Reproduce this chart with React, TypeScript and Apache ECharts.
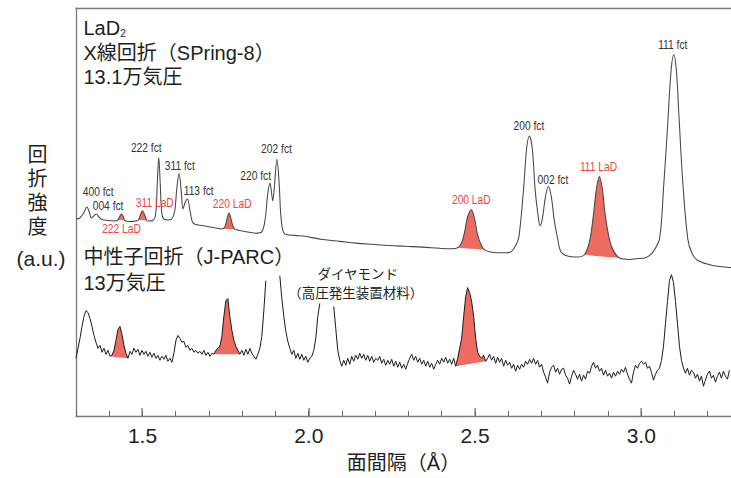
import React, { useEffect, useRef } from 'react';
import * as echarts from 'echarts';

// ---------- axis ----------
const X_MIN = 1.3;
const X_MAX = 3.27;
const Y_MIN = 0;
const Y_MAX = 410;
const MINOR_STEP = 0.1; // X_MIN is a multiple of this
const MAJOR_TICKS = [1.5, 2.0, 2.5, 3.0];

// ---------- X-ray (SPring-8) trace: d-spacing (Å) and intensity (a.u.) ----------
const XRAY_D = [
  1.300, 1.3114, 1.3234, 1.3325, 1.340, 1.346, 1.3535, 1.3616, 1.3685, 1.3776,
  1.3956, 1.4136, 1.4257, 1.4308, 1.4368, 1.4428, 1.4467, 1.4617, 1.4798, 1.4879,
  1.4948, 1.4999, 1.5053, 1.5128, 1.5188, 1.5309, 1.5399, 1.5444, 1.5489, 1.5534,
  1.5579, 1.5639, 1.5760, 1.5880, 1.5969, 1.6030, 1.6099, 1.6165, 1.6219, 1.6286,
  1.6352, 1.6421, 1.6502, 1.6601, 1.6872, 1.7202, 1.7383, 1.7473, 1.7542, 1.7602,
  1.7662, 1.7729, 1.7804, 1.8074, 1.8405, 1.8585, 1.8690, 1.8766, 1.8835, 1.8886,
  1.8916, 1.8961, 1.9045, 1.9111, 1.9171, 1.9277, 1.9577, 1.9878, 2.0419, 2.0930,
  2.1432, 2.1922, 2.2433, 2.2914, 2.3425, 2.3936, 2.4297, 2.4477, 2.4597, 2.4688,
  2.4778, 2.4889, 2.4988, 2.5078, 2.5199, 2.5289, 2.5439, 2.5640, 2.5941, 2.6100,
  2.6220, 2.6320, 2.6461, 2.6551, 2.6636, 2.6726, 2.6807, 2.6892, 2.6958, 2.7027,
  2.7117, 2.7207, 2.7297, 2.7387, 2.7487, 2.7589, 2.7787, 2.8088, 2.8290, 2.8440,
  2.8560, 2.8651, 2.8741, 2.8831, 2.8921, 2.9097, 2.9347, 2.9647, 2.9849, 3.0149,
  3.0348, 3.0549, 3.0669, 3.0799, 3.0895, 3.0979, 3.1060, 3.1130, 3.1250, 3.1400,
  3.1533, 3.1701, 3.2152, 3.2654, 3.2700,
];
const XRAY_I = [
  198, 199, 204, 210, 205, 199, 201, 203, 200, 197.5,
  196.5, 196, 197, 200, 203, 200, 196.5, 195.5, 196, 197,
  203, 206.3, 203, 196.5, 196, 196.5, 204, 233, 259.7, 233,
  204, 198, 197, 198, 206, 228, 243.7, 226, 208, 215,
  218, 208, 195, 192.5, 191, 189, 188, 190, 198, 204,
  198, 190, 187.5, 185.5, 183.7, 185, 198, 223, 234, 223,
  216.3, 228, 258, 233, 198, 183, 181.5, 180.7, 177.3, 175.5,
  173.7, 172.5, 171.3, 170.5, 169.7, 168.5, 168, 169, 174, 185,
  200, 207.3, 198, 182, 171, 167, 165, 164, 164, 165.5,
  171, 179.7, 228, 268, 281.3, 268, 228, 203, 191.3, 198,
  220, 230.7, 220, 196, 178, 164.7, 160.7, 159.7, 162, 174.7,
  201.3, 228, 240.7, 228, 201.3, 171.3, 158.7, 157.3, 158, 159.3,
  164.7, 178, 228, 294.7, 346, 363, 346, 304.7, 234.7, 178,
  163, 156.3, 151.3, 149.3, 149.2,
];
// LaD2 reflections shaded in the X-ray pattern (d-range of each shaded peak)
const XRAY_LAD_RANGES = [
  [1.4257, 1.4467],
  [1.4879, 1.5128],
  [1.7383, 1.7804],
  [2.4477, 2.5289],
  [2.8290, 2.9347],
];

// ---------- Neutron (J-PARC) trace: sampled every NEUTRON_D_STEP Å from NEUTRON_D_START ----------
const NEUTRON_D_START = 1.3;
const NEUTRON_D_STEP = 0.00601;
const NEUTRON_I: (number | null)[] = [
  58, 68, 78, 90, 100, 106, 104, 98, 90, 81,
  74, 68, 71, 64, 68, 62, 66, 60, 61, 66,
  76, 87, 90, 82, 71, 63, 58, 65, 62, 68,
  64, 67, 61, 66, 62, 65, 60, 64, 59, 63,
  58, 61, 56, 60, 57, 61, 55, 58, 54, 63,
  76, 81, 78, 74, 75, 69, 71, 66, 68, 64,
  66, 63, 65, 62, 66, 61, 64, 60, 63, 62,
  66, 68, 70, 80, 100, 116, 118, 100, 86, 76,
  70, 66, 62, 66, 61, 67, 62, 68, 63, 60,
  57, 62, 68, 80, 106, 136, null, null, null, null,
  null, null, 141, 118, 100, 85, 75, 68, 62, 66,
  58, 63, 57, 62, 56, 60, 54, 58, 60, 66,
  78, 100, 113, null, null, null, null, null, null, 110,
  88, 66, 56, 50, 56, 51, 58, 52, 60, 55,
  61, 57, 63, 58, 62, 56, 61, 55, 60, 54,
  58, 56, 60, 53, 57, 51, 56, 52, 57, 50,
  55, 49, 54, 48, 52, 47, 53, 58, 62, 56,
  60, 54, 58, 52, 56, 50, 55, 49, 53, 47,
  52, 56, 52, 58, 54, 59, 53, 57, 52, 58,
  50, 58, 68, 78, 100, 120, 129, 124, 115, 100,
  78, 64, 60, 58, 61, 55, 58, 62, 56, 60,
  53, 59, 54, 58, 50, 56, 51, 54, 48, 52,
  45, 51, 47, 52, 49, 55, 52, 57, 53, 58,
  52, 56, 49, 52, 44, 39, 33, 44, 49, 51,
  44, 48, 42, 47, 48, 41, 38, 32, 40, 46,
  42, 37, 42, 35, 41, 37, 45, 43, 50, 54,
  48, 51, 45, 48, 41, 46, 40, 43, 38, 44,
  40, 45, 42, 47, 44, 49, 42, 37, 33, 44,
  51, 48, 53, 55, 52, 54, 48, 50, 44, 36,
  42, 46, 48, 56, 70, 93, 115, 136, 142, 134,
  115, 93, 70, 56, 48, 43, 48, 41, 46, 44,
  38, 42, 35, 40, 30, 36, 42, 45, 38, 41,
  34, 40, 44, 38, 45, 40, 37, 46,
];
const NEUTRON_LAD_RANGES = [
  [1.4022, 1.4563],
  [1.7147, 1.7928],
  [2.4419, 2.5321],
];

// ---------- peak labels ----------
const PEAK_NAMES = [
  '400 fct', '004 fct', '222 LaD', '311 LaD', '222 fct', '311 fct', '113 fct', '220 LaD',
  '220 fct', '202 fct', '200 LaD', '200 fct', '002 fct', '111 LaD', '111 fct',
];
const PEAK_D = [
  1.3665, 1.3965, 1.4368, 1.5369, 1.5113, 1.6120, 1.6691, 1.7698,
  1.8405, 1.9030, 2.4889, 2.6621, 2.7342, 2.8716, 3.0949,
];
const PEAK_I = [
  225.7, 211, 188, 214.5, 269.3, 251.3, 226, 213,
  241.3, 268.5, 217.3, 291.3, 238, 250.7, 373,
];
const PEAK_PHASE = [
  'fct', 'fct', 'LaD', 'LaD', 'fct', 'fct', 'fct', 'LaD',
  'fct', 'fct', 'LaD', 'fct', 'fct', 'LaD', 'fct',
];
const NOTE_TEXTS = ['ダイヤモンド', '（高圧発生装置材料）'];
const NOTE_D = [2.1476, 2.1411];
const NOTE_I = [142, 123];

// ---------- styles ----------
const LATIN = "'Liberation Sans', Arial, 'Noto Sans CJK JP', sans-serif";
const CJK = "'Liberation Sans', 'Noto Sans CJK JP', sans-serif";
const TEXT = '#231f20';
const AXIS = '#7a7a7a';
const TICK = '#666666';
const RED_TEXT = '#ec4444';
const FILL = '#ee6b62';
const SMOOTH = 0.35;

type Pt = [number, number | null];

// Shaded peak = stacked pair: invisible straight baseline + (trace - baseline) area on top.
// Rows are stored as [intensity, d] with encode so that intensity is the stacked dimension.
function buildFills(points: Pt[], ranges: number[][], id: string, smooth: number | boolean) {
  const out: any[] = [];
  ranges.forEach(([a, b], k) => {
    const seg = points.filter((p) => p[1] != null && p[0] >= a - 1e-3 && p[0] <= b + 1e-3) as [number, number][];
    if (seg.length < 2) return;
    const [x0, y0] = seg[0];
    const [x1, y1] = seg[seg.length - 1];
    const baseY = seg.map((p) => y0 + ((y1 - y0) * (p[0] - x0)) / (x1 - x0));
    const common = {
      type: 'line',
      stack: id + k,
      stackStrategy: 'all',
      symbol: 'none',
      silent: true,
      smooth,
      z: 1,
      xAxisIndex: 0,
      yAxisIndex: 0,
      encode: { x: 1, y: 0 },
    };
    out.push({ ...common, data: seg.map((p, i) => [baseY[i], p[0]]), lineStyle: { opacity: 0, width: 0 } });
    out.push({
      ...common,
      data: seg.map((p, i) => [Math.max(0, p[1] - baseY[i]), p[0]]),
      lineStyle: { opacity: 0, width: 0 },
      areaStyle: { color: FILL, opacity: 1 },
    });
  });
  return out;
}

export default function App() {
  const ref = useRef<HTMLDivElement>(null);

  useEffect(() => {
    if (!ref.current) return;
    const chart = echarts.init(ref.current, undefined, { renderer: 'svg' });

    const xray: Pt[] = XRAY_D.map((d, i) => [d, XRAY_I[i]]);
    const neutron: Pt[] = NEUTRON_I.map((v, i) => [NEUTRON_D_START + i * NEUTRON_D_STEP, v]);

    const option: any = {
      animation: false,
      grid: { left: 76, right: 0, top: 8, bottom: 60, containLabel: false },
      xAxis: [
        {
          type: 'value', min: X_MIN, max: X_MAX, position: 'bottom',
          axisLine: { show: true, onZero: false, lineStyle: { color: AXIS, width: 1.3 } },
          axisTick: { show: false },
          axisLabel: {
            show: true, customValues: MAJOR_TICKS, formatter: (v: number) => v.toFixed(1),
            color: TEXT, fontSize: 21, fontFamily: LATIN, margin: 9,
          },
          splitLine: { show: false },
          name: '面間隔（Å）', nameLocation: 'middle', nameGap: 37,
          nameTextStyle: { fontSize: 20, color: TEXT, fontFamily: CJK },
        },
        {
          type: 'value', min: X_MIN, max: X_MAX, position: 'top',
          axisLine: { show: true, onZero: false, lineStyle: { color: AXIS, width: 1.3 } },
          axisTick: { show: false }, axisLabel: { show: false }, splitLine: { show: false },
        },
        {
          // minor ticks every 0.1 Å, drawn inward
          type: 'value', min: X_MIN, max: X_MAX, interval: MINOR_STEP, position: 'bottom', offset: 0,
          axisLine: { show: false, onZero: false },
          axisTick: { show: true, inside: true, length: 5, lineStyle: { color: TICK, width: 1 } },
          axisLabel: { show: false }, splitLine: { show: false },
        },
      ],
      yAxis: {
        type: 'value', min: Y_MIN, max: Y_MAX,
        axisLine: { show: true, onZero: false, lineStyle: { color: AXIS, width: 1.3 } },
        axisTick: { show: false }, axisLabel: { show: false }, splitLine: { show: false },
      },
      graphic: [
        {
          type: 'text', x: 83.5, y: 28, silent: true,
          style: {
            text: '{a|LaD}{s|2}',
            rich: {
              a: { fontSize: 20, fontFamily: LATIN, fill: TEXT, color: TEXT, verticalAlign: 'bottom' },
              s: { fontSize: 10, fontFamily: LATIN, fill: TEXT, color: TEXT, verticalAlign: 'bottom' },
            },
            fill: TEXT, verticalAlign: 'middle', textVerticalAlign: 'middle',
          },
        },
        ...[
          ['X線回折（SPring-8）', 52.5],
          ['13.1万気圧', 77],
          ['中性子回折（J-PARC）', 257],
          ['13万気圧', 283],
        ].map(([t, y]) => ({
          type: 'text', x: 83.5, y, silent: true,
          style: {
            text: t, fontSize: 20, fontFamily: CJK, fill: TEXT,
            align: 'left', textAlign: 'left', verticalAlign: 'middle', textVerticalAlign: 'middle',
          },
        })),
        {
          type: 'text', x: 37.5, y: 191, silent: true,
          style: {
            text: '回\n折\n強\n度', fontSize: 20, lineHeight: 24, fontFamily: CJK, fill: TEXT,
            align: 'center', textAlign: 'center', verticalAlign: 'middle', textVerticalAlign: 'middle',
          },
        },
        {
          type: 'text', x: 41, y: 258, silent: true,
          style: {
            text: '(a.u.)', fontSize: 21, fontFamily: LATIN, fill: TEXT,
            align: 'center', textAlign: 'center', verticalAlign: 'middle', textVerticalAlign: 'middle',
          },
        },
      ],
      series: [
        ...buildFills(xray, XRAY_LAD_RANGES, 'xf', SMOOTH),
        ...buildFills(neutron, NEUTRON_LAD_RANGES, 'nf', false),
        {
          type: 'line', name: 'X線回折', data: xray, smooth: SMOOTH, symbol: 'none', silent: true, z: 3,
          lineStyle: { color: '#454545', width: 1.05 },
        },
        {
          type: 'line', name: '中性子回折', data: neutron, connectNulls: false, symbol: 'none', silent: true, z: 3,
          lineStyle: { color: '#1a1a1a', width: 1 },
        },
        {
          // major ticks at 0.5 Å, 8 px long, inward
          type: 'custom', name: 'major ticks', silent: true, z: 6, clip: false,
          data: MAJOR_TICKS.map((v) => [v, Y_MIN]),
          renderItem: (_params: any, api: any) => {
            const p = api.coord([api.value(0), api.value(1)]);
            return {
              type: 'rect',
              shape: { x: Math.round(p[0]) - 0.5, y: p[1] - 8, width: 1.2, height: 8 },
              style: { fill: TICK },
            };
          },
        },
        {
          type: 'custom', name: 'peaks', silent: true, z: 5, clip: false,
          data: PEAK_D.map((d, i) => [d, PEAK_I[i]]),
          renderItem: (params: any, api: any) => {
            const i = params.dataIndex;
            const p = api.coord([api.value(0), api.value(1)]);
            return {
              type: 'text', x: p[0], y: p[1], scaleX: 0.82,
              style: {
                text: PEAK_NAMES[i], fill: PEAK_PHASE[i] === 'LaD' ? RED_TEXT : '#333',
                fontSize: 12.5, fontFamily: LATIN,
                align: 'center', textAlign: 'center', verticalAlign: 'middle', textVerticalAlign: 'middle',
              },
            };
          },
        },
        {
          type: 'custom', name: 'notes', silent: true, z: 5, clip: false,
          data: NOTE_D.map((d, i) => [d, NOTE_I[i]]),
          renderItem: (params: any, api: any) => {
            const i = params.dataIndex;
            const p = api.coord([api.value(0), api.value(1)]);
            return {
              type: 'text', x: p[0], y: p[1],
              style: {
                text: NOTE_TEXTS[i], fill: TEXT, fontSize: 13.5, fontFamily: CJK,
                align: 'center', textAlign: 'center', verticalAlign: 'middle', textVerticalAlign: 'middle',
              },
            };
          },
        },
      ],
    };

    chart.setOption(option);
    return () => chart.dispose();
  }, []);

  return (
    <div
      ref={ref}
      style={{ position: 'fixed', left: 0, top: 0, width: 731, height: 478, background: '#fff' }}
    />
  );
}
